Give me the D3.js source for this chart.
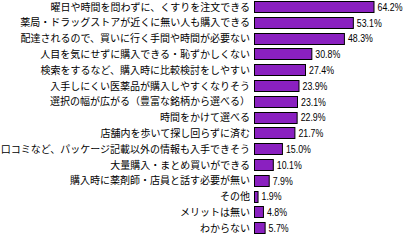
<!DOCTYPE html>
<html><head><meta charset="utf-8">
<script src="https://cdn.jsdelivr.net/npm/d3@7"></script>
<style>html,body{margin:0;padding:0;background:#fff;}svg{display:block;}</style>
</head><body>
<svg id="c" width="404" height="250"></svg>
<script>
const categories = [
  "曜日や時間を問わずに、くすりを注文できる",
  "薬局・ドラッグストアが近くに無い人も購入できる",
  "配達されるので、買いに行く手間や時間が必要ない",
  "人目を気にせずに購入できる・恥ずかしくない",
  "検索をするなど、購入時に比較検討をしやすい",
  "入手しにくい医薬品が購入しやすくなりそう",
  "選択の幅が広がる（豊富な銘柄から選べる）",
  "時間をかけて選べる",
  "店舗内を歩いて探し回らずに済む",
  "口コミなど、パッケージ記載以外の情報も入手できそう",
  "大量購入・まとめ買いができる",
  "購入時に薬剤師・店員と話す必要が無い",
  "その他",
  "メリットは無い",
  "わからない"
];
const values = [64.2, 53.1, 48.3, 30.8, 27.4, 23.9, 23.1, 22.9, 21.7, 15.0, 10.1, 7.9, 1.9, 4.8, 5.7];

const svg = d3.select("#c");
const x0 = 254;
const x = d3.scaleLinear().domain([0, 64.2]).range([x0, 373.5]);
const y = d3.scaleBand().domain(categories).range([1, 1 + 15.8 * (categories.length - 0.25)]).paddingInner(0.25).paddingOuter(0);

const g = svg.append("g");
g.selectAll("rect").data(values).join("rect")
  .attr("x", x0 + 0.5)
  .attr("y", (d, i) => Math.round(y(categories[i])) + 0.5)
  .attr("width", d => x(d) - x0)
  .attr("height", Math.round(y.bandwidth()) - 1)
  .attr("fill", "#8a20c0")
  .attr("stroke", "#000")
  .attr("stroke-width", 1);

g.selectAll("text.cat").data(categories).join("text")
  .attr("class", "cat")
  .attr("x", 250)
  .attr("y", d => y(d) + y.bandwidth() / 2)
  .attr("dy", "0.36em")
  .attr("text-anchor", "end")
  .attr("font-family", "'Noto Sans CJK JP', sans-serif")
  .attr("font-size", 10)
  .attr("fill", "#000")
  .text(d => d);

g.selectAll("text.val").data(values).join("text")
  .attr("class", "val")
  .attr("x", d => x(d) + 4)
  .attr("y", (d, i) => y(categories[i]) + y.bandwidth() / 2)
  .attr("dy", "0.36em")
  .attr("font-family", "'Liberation Sans', Arial, sans-serif")
  .attr("font-size", 11)
  .attr("fill", "#000")
  .text(d => d.toFixed(1) + "%")
  .each(function() {
    const w = this.getComputedTextLength();
    d3.select(this).attr("textLength", w * 0.8).attr("lengthAdjust", "spacingAndGlyphs");
  });
</script>
</body></html>
